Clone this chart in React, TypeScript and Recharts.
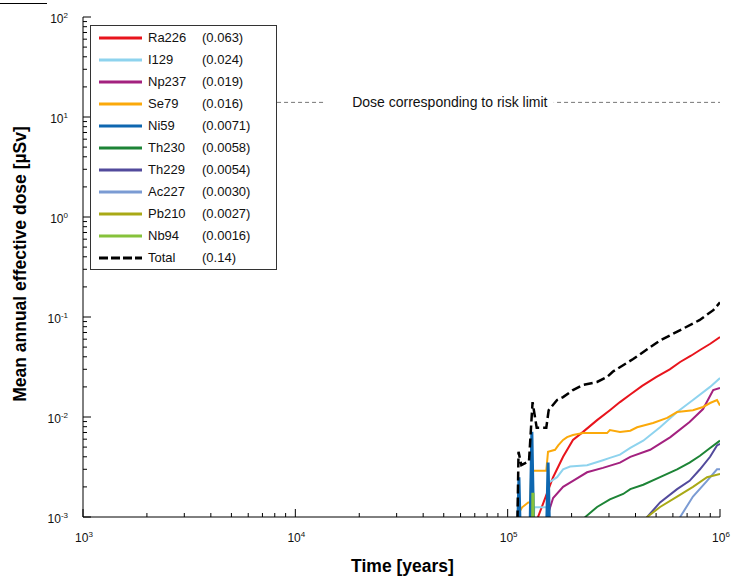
import React from "react";
import { LineChart, Line, XAxis, YAxis, ReferenceLine, Legend, Label } from "recharts";

// dose curves, [time in years, mean annual effective dose in µSv]
const RA226: [number, number][] = [
  [1.37e5, 7e-4], [1.39e5, 0.001], [1.534e5, 0.00174], [1.637e5, 0.0025], [1.824e5, 0.004],
  [2.03e5, 0.0059], [2.265e5, 0.0071], [2.637e5, 0.0093], [3.03e5, 0.0117], [3.38e5, 0.0141],
  [3.78e5, 0.0168], [4.3e5, 0.0205], [5.0e5, 0.0251], [5.8e5, 0.03], [6.49e5, 0.0355],
  [7.3e5, 0.041], [8.05e5, 0.0468], [9.0e5, 0.054], [1e6, 0.063],
];
const I129: [number, number][] = [
  [1.32e5, 7e-4], [1.335e5, 0.00125], [1.54e5, 0.00125], [1.56e5, 0.0022], [1.709e5, 0.0025],
  [1.824e5, 0.003], [1.968e5, 0.0032], [2.366e5, 0.0033], [2.81e5, 0.0037], [3.03e5, 0.0039],
  [3.38e5, 0.0042], [3.78e5, 0.0049], [4.35e5, 0.0058], [5.22e5, 0.0079], [6.28e5, 0.0112],
  [7.46e5, 0.0148], [8.98e5, 0.02], [1e6, 0.0245],
];
const NP237: [number, number][] = [
  [1.52e5, 7e-4], [1.534e5, 0.001], [1.637e5, 0.00155], [1.824e5, 0.002], [2.03e5, 0.0023],
  [2.366e5, 0.0028], [2.81e5, 0.0031], [3.38e5, 0.0035], [3.78e5, 0.004], [4.69e5, 0.0047],
  [5.84e5, 0.0063], [7.19e5, 0.0089], [8.32e5, 0.012], [9.29e5, 0.0186], [1e6, 0.0195],
];
const SE79: [number, number][] = [
  [1.115e5, 8e-4], [1.13e5, 0.0011], [1.17e5, 0.00125], [1.25e5, 0.0014], [1.28e5, 0.0014],
  [1.29e5, 0.0029], [1.52e5, 0.0029], [1.549e5, 0.0045], [1.672e5, 0.0047], [1.73e5, 0.0052],
  [1.824e5, 0.0059], [1.905e5, 0.0063], [2.03e5, 0.0066], [2.265e5, 0.0069], [2.938e5, 0.0069],
  [3.03e5, 0.0074], [3.38e5, 0.0071], [3.78e5, 0.0073], [4.07e5, 0.0079], [4.84e5, 0.0087],
  [5.64e5, 0.0098], [6.28e5, 0.0112], [7.46e5, 0.0117], [8.32e5, 0.0126], [8.98e5, 0.0138],
  [9.68e5, 0.0148], [1e6, 0.013],
];
const NI59: [number, number][] = [
  [1.11e5, 5e-4], [1.13e5, 0.0025], [1.15e5, 5e-4], [1.27e5, 5e-4], [1.3e5, 0.0071],
  [1.33e5, 5e-4], [1.52e5, 5e-4], [1.55e5, 0.0035], [1.58e5, 5e-4],
];
const TH230: [number, number][] = [
  [2.25e5, 8e-4], [2.32e5, 0.001], [2.637e5, 0.00126], [3.03e5, 0.0015], [3.5e5, 0.0017],
  [3.78e5, 0.0019], [4.35e5, 0.0021], [5.22e5, 0.0025], [6.28e5, 0.003], [7.19e5, 0.0035],
  [8.05e5, 0.0041], [8.98e5, 0.0049], [1e6, 0.0058],
];
const TH229: [number, number][] = [
  [4.45e5, 8e-4], [4.54e5, 0.001], [5.22e5, 0.0014], [6.28e5, 0.0019], [7.19e5, 0.0023],
  [8.05e5, 0.003], [8.98e5, 0.004], [9.68e5, 0.0052], [1e6, 0.0054],
];
const AC227: [number, number][] = [
  [6.4e5, 8e-4], [6.49e5, 0.001], [7.46e5, 0.0016], [8.69e5, 0.0023], [9.68e5, 0.003], [1e6, 0.003],
];
const PB210: [number, number][] = [
  [4.45e5, 8e-4], [4.54e5, 0.001], [5.22e5, 0.00126], [6.28e5, 0.0016], [7.46e5, 0.002],
  [8.69e5, 0.0025], [1e6, 0.0027],
];
const NB94: [number, number][] = [[1.305e5, 5e-4], [1.31e5, 0.0017], [1.32e5, 0.0017], [1.325e5, 5e-4]];
const TOTAL: [number, number][] = [
  [1.11e5, 7e-4], [1.125e5, 0.0045], [1.16e5, 0.0033], [1.26e5, 0.0036], [1.31e5, 0.0141],
  [1.37e5, 0.0078], [1.52e5, 0.0078], [1.56e5, 0.0117], [1.709e5, 0.0148], [1.824e5, 0.0158],
  [2.03e5, 0.0186], [2.265e5, 0.0209], [2.637e5, 0.0224], [2.938e5, 0.0251], [3.133e5, 0.0285],
  [3.9e5, 0.038], [5.2e5, 0.058], [6.5e5, 0.074], [8.0e5, 0.093], [9.3e5, 0.117], [1e6, 0.14],
];

const NAMES = ["Ra226", "I129", "Np237", "Se79", "Ni59", "Th230", "Th229", "Ac227", "Pb210", "Nb94", "Total"];
const PEAKS = ["(0.063)", "(0.024)", "(0.019)", "(0.016)", "(0.0071)", "(0.0058)", "(0.0054)", "(0.0030)", "(0.0027)", "(0.0016)", "(0.14)"];
const CURVES = [RA226, I129, NP237, SE79, NI59, TH230, TH229, AC227, PB210, NB94, TOTAL];

const X_DECADES = [1e3, 1e4, 1e5, 1e6];
const Y_DECADES = [1e-3, 1e-2, 1e-1, 1e0, 1e1, 1e2];
const RISK_DOSE = 14;
const RISK_FROM = 8.2e3;
const RISK_TEXT = "Dose corresponding to risk limit";

const COLORS: Record<string, string> = {
  Ra226: "#e8141c",
  I129: "#8ed3ee",
  Np237: "#a3217f",
  Se79: "#fba90a",
  Ni59: "#0e67b0",
  Th230: "#1d8436",
  Th229: "#524a9c",
  Ac227: "#7b9bd3",
  Pb210: "#a9a916",
  Nb94: "#86c23b",
  Total: "#000000",
};

const FONT = "'Liberation Sans', Arial, sans-serif";

const logTicks = (decades: number[]) => {
  const out: number[] = [];
  decades.forEach((d, i) => {
    out.push(d);
    if (i < decades.length - 1) for (let m = 2; m <= 9; m++) out.push(d * m);
  });
  return out;
};
const X_TICKS = logTicks(X_DECADES);
const Y_TICKS = logTicks(Y_DECADES);

const isMajor = (v: number) => Math.abs(Math.log10(v) - Math.round(Math.log10(v))) < 1e-6;
const expOf = (v: number) => Math.round(Math.log10(v));

const Pow = ({ v }: { v: number }) => (
  <>
    <tspan>10</tspan>
    <tspan dy={-5} fontSize={8}>{expOf(v)}</tspan>
  </>
);

const BottomTick = (p: any) => {
  const major = isMajor(p.payload.value);
  return (
    <g>
      <line x1={p.x} y1={p.y} x2={p.x} y2={p.y - (major ? 8 : 4)} stroke="#000" />
      {major && (
        <text x={p.x + 1} y={p.y + 25} textAnchor="middle" fontSize={12} fill="#111" fontFamily={FONT}>
          <Pow v={p.payload.value} />
        </text>
      )}
    </g>
  );
};
const TopTick = (p: any) => {
  const major = isMajor(p.payload.value);
  return <line x1={p.x} y1={p.y} x2={p.x} y2={p.y + (major ? 8 : 4)} stroke="#000" />;
};
const LeftTick = (p: any) => {
  const major = isMajor(p.payload.value);
  return (
    <g>
      <line x1={p.x} y1={p.y} x2={p.x + (major ? 8 : 4)} y2={p.y} stroke="#000" />
      {major && (
        <text x={p.x - 15} y={p.y + 5.5} textAnchor="end" fontSize={12} fill="#111" fontFamily={FONT}>
          <Pow v={p.payload.value} />
        </text>
      )}
    </g>
  );
};
const RightTick = (p: any) => {
  const major = isMajor(p.payload.value);
  return <line x1={p.x} y1={p.y} x2={p.x - (major ? 8 : 4)} y2={p.y} stroke="#000" />;
};

const XTitle = (p: any) => {
  const vb = p.viewBox;
  return (
    <text x={vb.x + vb.width / 2 + 1} y={vb.y + 55} textAnchor="middle" fontSize={17.5} fontWeight="bold" fill="#000" fontFamily={FONT}>
      Time [years]
    </text>
  );
};
const YTitle = (p: any) => {
  const vb = p.viewBox;
  const cx = vb.x + 20;
  const cy = vb.y + vb.height / 2 - 3;
  return (
    <text x={cx} y={cy} transform={`rotate(-90 ${cx} ${cy})`} textAnchor="middle" dominantBaseline="central" fontSize={17.5} fontWeight="bold" fill="#000" fontFamily={FONT}>
      Mean annual effective dose [µSv]
    </text>
  );
};
const RiskLabel = (p: any) => {
  const vb = p.viewBox;
  const cx = vb.x + vb.width * 0.39;
  return (
    <g>
      <rect x={cx - 125} y={vb.y - 8} width={229} height={16} fill="#fff" />
      <text x={cx} y={vb.y} textAnchor="middle" dominantBaseline="central" fontSize={14} fill="#111" fontFamily={FONT}>
        {RISK_TEXT}
      </text>
    </g>
  );
};

const LegendBox = () => (
  <div style={{ position: "relative", width: 185, height: 243, border: "1px solid #333", background: "#fff", fontFamily: FONT, fontSize: 13, color: "#111" }}>
    {NAMES.map((n, i) => (
      <div key={n} style={{ position: "absolute", left: 0, top: 1 + 22 * i, height: 22, width: 185 }}>
        <svg width={44} height={22} style={{ position: "absolute", left: 8, top: 0 }}>
          <line x1={0} y1={11} x2={43} y2={11} stroke={COLORS[n]} strokeWidth={3} strokeDasharray={n === "Total" ? "9 3" : undefined} />
        </svg>
        <span style={{ position: "absolute", left: 57, top: 3 }}>{n}</span>
        <span style={{ position: "absolute", left: 111, top: 3 }}>{PEAKS[i]}</span>
      </div>
    ))}
  </div>
);

const widthOf = (n: string) => (n === "Total" ? 2.5 : n === "Ni59" ? 3 : n === "Nb94" ? 2.5 : 2);

export default function App() {
  return (
    <div style={{ position: "absolute", left: 0, top: 0, width: 732, height: 584, background: "#fff", fontFamily: FONT }}>
      <div style={{ position: "absolute", left: 0, top: 3, width: 47, height: 1, background: "#000" }} />
      <LineChart width={732} height={584} margin={{ top: 17, right: 12, bottom: 17, left: 0 }}>
        <XAxis
          type="number" dataKey="t" scale="log" domain={[1e3, 1e6]} allowDataOverflow
          ticks={X_TICKS} interval={0} tickSize={0} tickMargin={0} tickLine={false}
          tick={(p: any) => <BottomTick {...p} />} axisLine={{ stroke: "#000" }} height={50}
          label={<Label content={XTitle} />}
        />
        <XAxis
          xAxisId="top" orientation="top" type="number" scale="log" domain={[1e3, 1e6]} allowDataOverflow
          ticks={X_TICKS} interval={0} tickSize={0} tickMargin={0} tickLine={false}
          tick={(p: any) => <TopTick {...p} />} axisLine={{ stroke: "#000" }} height={0}
        />
        <YAxis
          type="number" scale="log" domain={[1e-3, 1e2]} allowDataOverflow
          ticks={Y_TICKS} interval={0} tickSize={0} tickMargin={0} tickLine={false}
          tick={(p: any) => <LeftTick {...p} />} axisLine={{ stroke: "#000" }} width={83}
          label={<Label content={YTitle} />}
        />
        <YAxis
          yAxisId="right" orientation="right" type="number" scale="log" domain={[1e-3, 1e2]} allowDataOverflow
          ticks={Y_TICKS} interval={0} tickSize={0} tickMargin={0} tickLine={false}
          tick={(p: any) => <RightTick {...p} />} axisLine={{ stroke: "#000" }} width={0}
        />
        <ReferenceLine
          segment={[{ x: RISK_FROM, y: RISK_DOSE }, { x: 1e6, y: RISK_DOSE }]}
          stroke="#777" strokeDasharray="4 3" strokeWidth={1} ifOverflow="visible"
          label={<Label content={RiskLabel} />}
        />
        {NAMES.map((n, i) => (
          <Line
            key={n}
            name={n}
            data={CURVES[i].map(([t, d]) => ({ t, d }))}
            dataKey="d"
            type="linear"
            stroke={COLORS[n]}
            strokeWidth={widthOf(n)}
            strokeDasharray={n === "Total" ? "9 4" : undefined}
            dot={false}
            activeDot={false}
            isAnimationActive={false}
          />
        ))}
        <Legend
          layout="vertical" align="center" verticalAlign="middle"
          content={() => <LegendBox />}
          wrapperStyle={{ left: 90, top: 25, width: 187, height: 245 }}
        />
      </LineChart>
    </div>
  );
}
